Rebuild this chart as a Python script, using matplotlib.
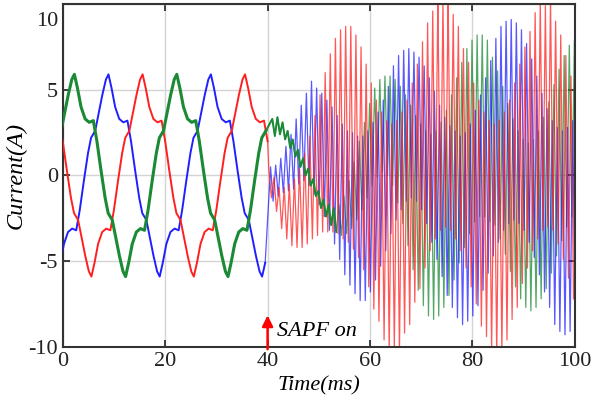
import matplotlib.pyplot as plt
import matplotlib.transforms as mtransforms
import numpy as np

# ---- before SAPF on (0-40 ms): one positive half cycle of the line current,
# offsets in ms from the peak
half_dt = [-3.4, -3.0, -2.6, -2.0, -1.2, -0.5, 0.0, 0.6, 1.3, 2.1, 2.9, 3.7, 4.4, 5.2, 6.0]
half_i = [2.2, 2.4, 2.6, 3.5, 4.7, 5.6, 5.9, 5.1, 4.0, 3.3, 3.1, 3.2, 2.0, 0.3, -1.3]
period = 20.0
first_peak = {'red': 15.6, 'green': 22.27, 'blue': 28.93}

# ---- after SAPF on (40-100 ms): ripple maxima / minima, one pair per 1 ms cycle
red_hi = [0.3, -0.1, -0.7, -0.7, -0.5, -0.2, 0.4, 1.3, 2.3, 3.5,
          4.7, 6.0, 7.1, 8.0, 8.5, 8.7, 8.7, 8.2, 7.5, 6.5,
          5.4, 4.4, 3.7, 3.2, 3.0, 3.2, 3.7, 4.4, 5.4, 6.5,
          7.8, 8.9, 9.6, 10.4, 10.2, 10.5, 9.4, 8.7, 7.4, 6.6,
          5.4, 4.4, 3.7, 3.2, 3.0, 3.2, 3.7, 4.4, 5.4, 6.5,
          7.5, 8.4, 9.5, 10.2, 9.9, 10.3, 9.0, 8.2, 7.0, 5.8]
red_lo = [-1.3, -2.1, -3.1, -3.7, -4.1, -4.2, -4.2, -4.0, -3.7, -3.5,
          -3.3, -3.3, -3.3, -3.4, -3.7, -3.9, -4.3, -4.8, -5.5, -6.5,
          -7.8, -8.5, -9.6, -10.3, -10.1, -10.4, -9.2, -8.7, -7.4, -6.6,
          -5.4, -4.4, -3.7, -3.2, -3.0, -3.2, -3.7, -4.4, -5.4, -6.5,
          -7.5, -8.8, -9.4, -10.2, -10.5, -10.3, -9.6, -8.4, -7.7, -6.3,
          -5.4, -4.4, -3.7, -3.2, -3.0, -3.2, -4.0, -4.9, -6.0, -7.2]
blue_hi = [0.5, 0.6, 1.0, 1.7, 2.4, 3.3, 4.1, 4.8, 5.5, 5.1,
           4.8, 4.4, 4.0, 3.5, 3.0, 2.6, 2.5, 2.3, 2.3, 2.6,
           3.1, 3.7, 4.4, 5.2, 6.4, 7.0, 7.3, 7.4, 7.2, 6.9,
           6.4, 5.7, 4.9, 4.1, 3.4, 2.9, 2.6, 2.3, 2.5, 3.0,
           3.8, 4.7, 5.7, 6.7, 8.0, 8.7, 9.0, 9.1, 8.9, 8.5,
           7.7, 6.8, 5.8, 4.8, 3.9, 3.2, 2.8, 2.6, 2.8, 3.2]
blue_lo = [-1.5, -1.2, -1.0, -0.9, -0.8, -0.5, -0.3, -0.6, -1.1, -1.7,
           -2.4, -3.2, -4.0, -4.9, -5.8, -6.4, -6.9, -7.3, -7.3, -6.8,
           -6.1, -5.3, -4.4, -3.4, -2.6, -2.0, -1.5, -1.3, -1.5, -2.0,
           -2.8, -3.9, -4.9, -5.9, -7.0, -7.7, -8.3, -8.7, -8.5, -8.2,
           -7.6, -6.7, -5.7, -4.7, -3.9, -3.2, -2.8, -2.6, -2.8, -3.2,
           -3.9, -4.8, -5.8, -6.8, -7.7, -8.7, -9.1, -9.3, -9.1, -8.6]
green_hi = [3.3, 3.4, 3.1, 2.6, 2.1, 1.5, 1.0, 0.4, -0.2, -0.9,
            -1.4, -1.7, -1.9, -1.7, -1.2, -0.3, 0.8, 2.0, 3.1, 4.2,
            5.1, 5.6, 5.8, 5.8, 5.6, 5.2, 4.7, 4.1, 3.5, 3.0,
            2.6, 2.4, 2.6, 3.1, 3.8, 4.7, 5.7, 6.6, 7.4, 7.9,
            8.2, 8.2, 7.9, 6.9, 6.1, 5.2, 4.2, 3.3, 2.6, 2.1,
            1.9, 2.1, 2.6, 3.4, 4.3, 5.3, 6.2, 7.0, 7.6, 7.9]
green_lo = [2.3, 2.4, 2.1, 1.6, 1.1, 0.5, 0.0, -0.6, -1.2, -1.9,
            -2.4, -2.9, -3.3, -3.5, -3.4, -3.1, -2.6, -2.0, -1.3, -0.6,
            -0.1, 0.2, 0.0, -0.6, -1.6, -2.8, -4.1, -5.5, -6.7, -7.6,
            -8.2, -8.4, -8.2, -7.7, -7.0, -6.1, -5.1, -4.2, -3.4, -2.7,
            -2.4, -2.4, -2.7, -2.9, -3.7, -4.6, -5.6, -6.5, -7.2, -7.7,
            -7.9, -7.7, -7.2, -6.6, -5.7, -4.7, -3.8, -3.0, -2.4, -2.1]

colors = {'red': '#ff1f1f', 'blue': '#2020ff', 'green': '#1b8a35'}


def pre_wave(peak0):
    t, y = [], []
    for n in range(-3, 6):
        sign = 1 if n % 2 == 0 else -1
        for d, v in zip(half_dt, half_i):
            t.append(peak0 + n * period / 2 + d)
            y.append(sign * v)
    t = np.array(t)
    y = np.array(y)
    keep = (t >= -1) & (t <= 40)
    return t[keep], y[keep]


def post_wave(hi, lo, shift):
    k = np.arange(len(hi))
    t = np.empty(2 * len(hi))
    y = np.empty(2 * len(hi))
    t[0::2] = 40 + k + 0.25 + shift
    t[1::2] = 40 + k + 0.75 + shift
    y[0::2] = hi
    y[1::2] = lo
    return t, y


plt.rcParams['font.family'] = 'Liberation Serif'
plt.rcParams['axes.unicode_minus'] = False

fig = plt.figure(figsize=(5.92, 4.09), dpi=100)
ax = fig.add_axes([0.106, 0.152, 0.865, 0.838])

# after compensation: thin, semi transparent ripple
post = {'green': (green_hi, green_lo, 0.67), 'blue': (blue_hi, blue_lo, 0.33),
        'red': (red_hi, red_lo, 0.0)}
for name, (hi, lo, shift) in post.items():
    t, y = post_wave(hi, lo, shift)
    t0, y0 = pre_wave(first_peak[name])
    t = np.concatenate([[t0[-1]], t])
    y = np.concatenate([[y0[-1]], y])
    ax.plot(t, y, color=colors[name], lw=0.9, alpha=0.75, zorder=2)

# green stays a thick noisy band until the ripple builds up (~53 ms)
t, y = post_wave(green_hi[:13], green_lo[:13], 0.67)
t0, y0 = pre_wave(first_peak['green'])
ax.plot(np.concatenate([[t0[-1]], t]), np.concatenate([[y0[-1]], y]),
        color=colors['green'], lw=1.4, zorder=3)

# before compensation
for name, lw in [('blue', 1.4), ('red', 1.4), ('green', 2.2)]:
    t, y = pre_wave(first_peak[name])
    ax.plot(t, y, color=colors[name], lw=lw, zorder=3)

ax.set_xlim(0, 100)
ax.set_ylim(-10, 10)
ax.set_xticks([0, 20, 40, 60, 80, 100])
ax.set_yticks([-10, -5, 0, 5, 10])
ax.grid(True, color='#d4d4d4', lw=1.0)
ax.set_axisbelow(True)
ax.tick_params(direction='in', length=5, width=1.2, top=True, right=True,
               labelsize=16, colors='#222222')
for s in ax.spines.values():
    s.set_linewidth(1.5)
    s.set_color('#333333')

# the top tick label sits a little below the frame in the reference
top_lab = ax.get_yticklabels()[-1]
top_lab.set_transform(top_lab.get_transform() +
                      mtransforms.ScaledTranslation(0, -11 / 72, fig.dpi_scale_trans))

ax.set_xlabel('Time(ms)', fontsize=16, style='italic', labelpad=4)
ax.set_ylabel('Current(A)', fontsize=17.5, style='italic', labelpad=1)

ax.annotate('', xy=(40, -8.0), xytext=(40, -10.3),
            arrowprops=dict(arrowstyle='-|>', color='red', lw=1.8, mutation_scale=16),
            annotation_clip=False, zorder=5)
ax.text(41.8, -9.1, 'SAPF on', fontsize=16, style='italic', va='center', ha='left',
        zorder=5)

fig.savefig('out.png', dpi=100)
